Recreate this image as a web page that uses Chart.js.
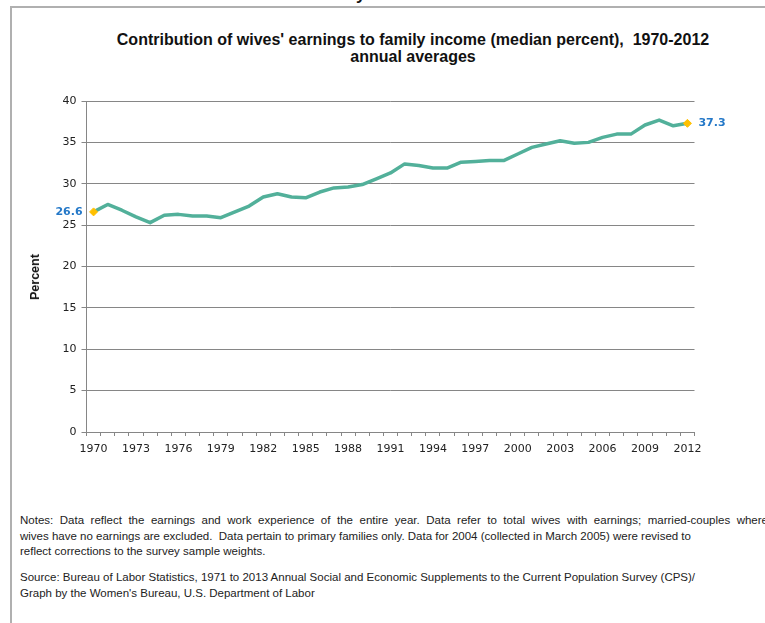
<!DOCTYPE html>
<html>
<head>
<meta charset="utf-8">
<script src="https://cdn.jsdelivr.net/npm/chart.js@4"></script>
<style>
  body { margin: 0; background: #fff; width: 765px; height: 623px; overflow: hidden; position: relative;
         font-family: "Liberation Sans", Arial, sans-serif; color: #222; }
  #frame { position: absolute; left: 10px; top: 6px; width: 800px; height: 700px;
           border-left: 2px solid #b0b0b0; border-top: 2px solid #b0b0b0; }
  #cut { position: absolute; left: 356px; top: -15px; font: bold 17px "Liberation Sans"; color: #111; }
  #title { position: absolute; left: 0; width: 826px; top: 31px; text-align: center;
           font-weight: bold; font-size: 16px; line-height: 17px; color: #111; }
  #ytitle { position: absolute; left: 35px; top: 277px; transform: translate(-50%, -50%) rotate(-90deg);
            font-weight: bold; font-size: 12.5px; color: #111; white-space: nowrap; }
  #wrap { position: absolute; left: 0; top: 0; }
  #notes { position: absolute; left: 20px; top: 513px; font-size: 11.5px; line-height: 15.5px; white-space: nowrap; }
  #notes .j { width: 748px; text-align: justify; text-align-last: justify; }
  #notes .src { margin-top: 10.5px; }
</style>
</head>
<body>
<div id="frame"></div>
<div id="cut">y</div>
<div id="title">Contribution of wives' earnings to family income (median percent),&nbsp; 1970-2012<br>annual averages</div>
<div id="wrap"><canvas id="wivesChart" width="765" height="480"></canvas></div>
<div id="ytitle">Percent</div>
<div id="notes">
  <div class="j">Notes: Data reflect the earnings and work experience of the entire year. Data refer to total wives with earnings; married-couples where</div>
  <div>wives have no earnings are excluded.&nbsp; Data pertain to primary families only. Data for 2004 (collected in March 2005) were revised to</div>
  <div>reflect corrections to the survey sample weights.</div>
  <div class="src">Source: Bureau of Labor Statistics, 1971 to 2013 Annual Social and Economic Supplements to the Current Population Survey (CPS)/</div>
  <div>Graph by the Women's Bureau, U.S. Department of Labor</div>
</div>
<script>
const years = ["1970", "1971", "1972", "1973", "1974", "1975", "1976", "1977", "1978", "1979",
               "1980", "1981", "1982", "1983", "1984", "1985", "1986", "1987", "1988", "1989",
               "1990", "1991", "1992", "1993", "1994", "1995", "1996", "1997", "1998", "1999",
               "2000", "2001", "2002", "2003", "2004", "2005", "2006", "2007", "2008", "2009",
               "2010", "2011", "2012"];
const wivesShare = [26.6, 27.5, 26.8, 26.0, 25.3, 26.2, 26.3, 26.1, 26.1, 25.9,
                    26.6, 27.3, 28.4, 28.8, 28.4, 28.3, 29.0, 29.5, 29.6, 29.9,
                    30.6, 31.3, 32.4, 32.2, 31.9, 31.9, 32.6, 32.7, 32.8, 32.8,
                    33.6, 34.4, 34.8, 35.2, 34.9, 35.0, 35.6, 36.0, 36.0, 37.1,
                    37.7, 37.0, 37.3];
const yMin = 0, yMax = 40, yStep = 5;
const labelEvery = 3;

const axisGray = "#868686";
const tickFont = { family: "DejaVu Sans", size: 11 };
const last = wivesShare.length - 1;

// labels next to the first and last point
const endLabels = {
    id: "endLabels",
    afterDatasetsDraw(chart) {
        const pts = chart.getDatasetMeta(0).data;
        const ctx = chart.ctx;
        ctx.save();
        ctx.font = "bold 11px 'DejaVu Sans'";
        ctx.fillStyle = "#2478C8";
        ctx.textBaseline = "middle";
        ctx.textAlign = "right";
        ctx.fillText(wivesShare[0].toFixed(1), pts[0].x - 11, pts[0].y);
        ctx.textAlign = "left";
        ctx.fillText(wivesShare[last].toFixed(1), pts[last].x + 11, pts[last].y);
        ctx.restore();
    }
};

new Chart(document.getElementById("wivesChart"), {
    type: "line",
    data: {
        labels: years,
        datasets: [{
            data: wivesShare,
            borderColor: "#52B09A",
            borderWidth: 3.5,
            borderJoinStyle: "round",
            tension: 0,
            pointStyle: "rectRot",
            pointRadius: c => (c.dataIndex === 0 || c.dataIndex === last) ? 4 : 0,
            pointBackgroundColor: "#FFC000",
            pointBorderColor: "#FFC000",
            pointBorderWidth: 1
        }]
    },
    options: {
        responsive: false,
        animation: false,
        layout: { padding: { top: 101, right: 70.5, bottom: 0, left: 0 } },
        plugins: { legend: { display: false }, tooltip: { enabled: false } },
        scales: {
            x: {
                type: "category",
                offset: true,
                grid: { offset: true, drawOnChartArea: false, drawTicks: true, tickLength: 4, color: axisGray },
                border: { color: axisGray },
                ticks: {
                    autoSkip: false, maxRotation: 0, padding: 7, color: "#222", font: tickFont,
                    callback: (v, i) => i % labelEvery === 0 ? years[i] : ""
                },
                afterFit: s => { s.height = 48; }
            },
            y: {
                min: yMin, max: yMax,
                ticks: { stepSize: yStep, padding: 5, color: "#222", font: tickFont },
                grid: { color: axisGray, tickLength: 5 },
                border: { color: axisGray },
                afterFit: s => { s.width = 86.5; }
            }
        }
    },
    plugins: [endLabels]
});
</script>
</body>
</html>
